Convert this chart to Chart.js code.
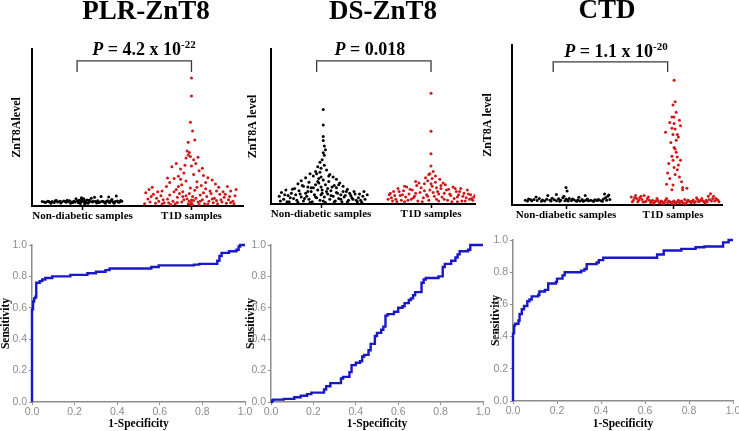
<!DOCTYPE html>
<html>
<head>
<meta charset="utf-8">
<script src="https://cdn.jsdelivr.net/npm/chart.js@4.4.1/dist/chart.umd.min.js"></script>
<style>
  html, body { margin: 0; padding: 0; background: #fff; }
  #wrap { position: relative; width: 739px; height: 431px; overflow: hidden; background: #fff; }
  #wrap canvas { position: absolute; }
  .ttl { position: absolute; transform: translateX(-50%); white-space: nowrap;
         font-family: "Times New Roman", "Liberation Serif", serif; font-weight: bold;
         font-size: 27px; line-height: 27px; color: #000; }
  .pv { position: absolute; transform: translateX(-50%); white-space: nowrap;
        font-family: "Times New Roman", "Liberation Serif", serif; font-weight: bold;
        font-size: 18px; line-height: 18px; color: #000; }
  .pv sup { font-size: 11px; vertical-align: 7px; line-height: 0; }
</style>
</head>
<body>
<div id="wrap">
  <canvas id="c1" width="247" height="225" style="left:0;top:0"></canvas>
  <canvas id="c2" width="237" height="225" style="left:247px;top:0"></canvas>
  <canvas id="c3" width="259" height="225" style="left:480px;top:0"></canvas>
  <canvas id="c4" width="258" height="203" style="left:0;top:228px"></canvas>
  <canvas id="c5" width="250" height="203" style="left:245px;top:228px"></canvas>
  <canvas id="c6" width="249" height="203" style="left:490px;top:228px"></canvas>

  <div class="ttl" style="left:146px;top:-3px">PLR-ZnT8</div>
  <div class="ttl" style="left:383px;top:-3px">DS-ZnT8</div>
  <div class="ttl" style="left:607px;top:-4px">CTD</div>

  <div class="pv" style="left:144px;top:40px"><i>P</i> = 4.2 x 10<sup>-22</sup></div>
  <div class="pv" style="left:370px;top:40px"><i>P</i> = 0.018</div>
  <div class="pv" style="left:616px;top:42px"><i>P</i> = 1.1 x 10<sup>-20</sup></div>
</div>
<script>
// ---------------- DATA ----------------
const groupLabels = ['Non-diabetic samples', 'T1D samples'];
const groupPositions = [1, 2];
const scatterYTitles = ['ZnT8Alevel', 'ZnT8A level', 'ZnT8A level'];

// PLR-ZnT8 : [jittered group position, ZnT8A level (0-100 of axis)]
const plrNonDiabetic = [[0.65,2.6],[0.68,3.1],[0.70,2.4],[0.72,2.9],[0.75,3.3],[0.77,2.5],[0.79,3.0],[0.81,2.7],[0.83,3.2],[0.85,2.4],
  [0.87,2.9],[0.88,3.4],[0.90,2.6],[0.92,3.0],[0.93,2.5],[0.95,3.3],[0.96,2.8],[0.97,3.6],[0.98,2.4],[0.99,3.9],
  [1.00,3.1],[1.00,4.2],[1.01,2.7],[1.02,3.5],[1.03,2.9],[1.04,3.8],[1.06,2.6],[1.07,3.2],[1.09,2.5],[1.10,3.0],
  [1.12,2.8],[1.14,3.3],[1.16,2.6],[1.18,3.1],[1.20,2.4],[1.22,3.0],[1.24,2.7],[1.26,3.4],[1.28,2.5],[1.30,2.9],
  [1.32,3.2],[1.34,2.6],[1.36,3.0],[0.71,1.8],[0.80,1.9],[0.89,1.7],[0.98,1.6],[1.05,1.8],[1.13,1.9],[1.21,1.7],
  [1.29,1.8],[1.11,5.6],[1.17,6.1],[1.24,5.8],[1.31,6.4],[0.99,5.2],[1.02,1.2],[0.94,4.6],[1.08,4.9],[1.27,4.1],
  [0.66,2.2],[0.69,2.9],[0.74,2.3],[0.76,3.5],[0.84,2.8],[0.86,3.6],[0.91,2.2],[0.96,2.3],[1.01,4.6],[1.03,2.2],
  [1.06,3.7],[1.15,2.3],[1.19,2.8],[1.23,3.4],[1.25,2.3],[1.33,2.4],[1.35,3.5],[0.63,2.9]];
const plrT1D = [[2.00,81.5],[2.00,70],[1.99,53.3],[2.01,47.8],[1.97,40.6],[2.03,42],[1.96,35],[1.98,34],[1.97,32.5],[1.99,31.5],
  [2.02,29.5],[1.95,30.5],[2.00,25.5],[2.04,27],
  [1.82,25],[1.86,27],[1.90,23.5],[1.93,21],[2.07,22.5],[2.11,19.5],[1.88,19],[1.84,17.5],[2.15,18],[2.19,16.5],
  [1.80,15],[1.95,16],[2.05,15.5],[2.22,14],[1.91,13.5],[2.09,13],[1.77,12.5],[2.25,12],[1.99,11.5],[2.13,11],
  [1.86,10.5],[2.03,10],[2.17,9.5],[1.73,9.5],
  [1.58,8.5],[1.61,10.5],[1.65,7.5],[1.68,5],[1.70,3],[1.72,6.5],[1.75,2],[1.78,4.5],[1.80,7],[1.83,3],
  [1.85,1.5],[1.87,5.5],[1.89,8],[1.91,2.5],[1.93,4],[1.95,6.5],[1.97,1.5],[1.98,3],[1.99,1],[2.00,2],
  [2.01,0.8],[2.02,3.5],[2.04,5],[2.06,2.5],[2.08,7],[2.10,4],[2.12,1.5],[2.14,6],[2.16,3],[2.18,8],
  [2.20,2],[2.21,5],[2.23,3.5],[2.26,7.5],[2.28,2.5],[2.30,5.5],[2.32,1.8],[2.34,4],[2.36,9.5],[2.38,3],
  [2.40,6.5],[2.41,10.5],[2.36,2.2],[1.62,2.5],[1.67,1.8],[1.60,4.5],[1.73,1.2],[1.81,1],[1.92,6],[2.07,1],
  [2.24,1.4],[2.29,9],[1.64,12],[2.33,12.5],
  [1.57,1.5],[1.63,6],[1.69,9],[1.74,4],[1.79,2],[1.84,9],[1.88,12.5],[1.92,9],[1.96,4.5],[2.01,6],
  [2.05,12],[2.08,3],[2.11,8.5],[2.15,1.2],[2.19,4.5],[2.23,9.5],[2.27,4],[2.31,7.5],[2.35,6],[2.39,1.5],
  [1.87,2.2],[2.00,3.8],[1.98,8],[2.13,15],[1.78,17.8],[1.94,26],[2.06,31],[1.90,17],[2.02,20],[2.10,24]];
const plrBracket = [[0.95,85.4],[0.95,92.4],[2.0,92.4],[2.0,85.4]];

// DS-ZnT8
const dsNonDiabetic = [[1.02,61],[1.02,51],[1.02,43.5],[1.02,41],[1.03,37.5],[1.04,35],[1.02,33],[1.03,31.5],[0.99,27],[1.01,28.5],
  [0.97,24],[1.00,23],
  [0.95,21],[1.05,22],[0.90,19.5],[1.08,19],[0.93,18],[1.11,17.5],[0.86,17],[0.98,16.5],[1.14,16],[0.82,15],
  [1.02,15.5],[0.89,14],[1.07,14.5],[1.17,13.5],[0.79,13],[0.95,12.5],[1.12,12],[0.84,11.5],[1.00,11],[1.20,11.5],
  [0.91,10.5],[1.06,10],[0.76,10],[1.24,9.5],
  [0.62,5],[0.64,7.5],[0.66,3],[0.68,9],[0.70,5.5],[0.71,1.5],[0.73,7],[0.75,3.5],[0.77,6],[0.79,1],
  [0.80,8.5],[0.82,4.5],[0.84,2],[0.86,7],[0.87,5],[0.89,3],[0.91,8],[0.92,1.5],[0.94,6],[0.96,4],
  [0.97,9],[0.99,2.5],[1.01,7],[1.03,4.5],[1.04,1],[1.06,6.5],[1.08,3],[1.09,8.5],[1.11,5],[1.13,2],
  [1.15,7],[1.16,3.5],[1.18,6],[1.19,1.5],[1.21,4.5],[1.23,8],[1.25,2.5],[1.27,5.5],[1.29,3],[1.31,6.5],
  [1.33,1.5],[1.34,4],[1.36,2.5],[1.38,5],[1.40,3],[1.42,6],[1.30,8],[0.88,11],[1.14,10.5],[0.98,13.5],
  [0.63,2],[0.67,6],[0.69,1.5],[0.72,4],[0.74,9.5],[0.78,2.5],[0.81,6.5],[0.83,12],[0.85,3.5],[0.88,8],
  [0.90,1],[0.93,10.5],[0.95,4.5],[0.97,14.5],[1.00,6],[1.00,17.5],[1.02,2],[1.04,12.5],[1.05,8],[1.07,18],
  [1.09,5.5],[1.10,11],[1.12,1.5],[1.14,7.5],[1.16,12.5],[1.18,3],[1.20,8],[1.22,5.5],[1.24,1.5],[1.26,7],
  [1.28,4],[1.32,2.5],[1.35,6.5],[1.37,1.2],[1.39,8],[0.96,19.5],[1.03,25],[0.99,20.5],[1.01,9]];
const dsT1D = [[2.00,71.5],[2.00,47],[2.00,32.5],[2.00,24.5],[2.02,21],[1.99,19.5],[2.04,18],
  [1.62,6],[1.64,4],[1.66,8],[1.68,3],[1.70,10],[1.72,5.5],[1.73,2.5],[1.75,8.5],[1.77,4.5],[1.78,11],
  [1.80,6.5],[1.82,3],[1.83,9],[1.85,5],[1.87,12],[1.88,2],[1.90,7.5],[1.91,10.5],[1.93,4],[1.94,13],
  [1.96,6],[1.97,15],[1.98,2.5],[1.99,9],[2.01,11.5],[2.03,5],[2.04,14],[2.05,3],[2.06,8],[2.08,16],
  [2.09,10],[2.10,4.5],[2.12,7],[2.13,12.5],[2.15,2.5],[2.16,9.5],[2.18,5.5],[2.20,11],[2.21,3.5],[2.23,8],
  [2.25,6],[2.27,10],[2.28,2],[2.30,7],[2.32,4],[2.33,9],[2.35,3],[2.36,6],[2.38,2.5],[2.39,4.5],
  [1.86,14.5],[2.11,13.5],[1.95,17],[2.07,6.5],[1.76,1.5],[2.24,1.5],
  [1.61,3],[1.63,7],[1.65,2],[1.67,5.5],[1.69,1.5],[1.71,8],[1.74,6],[1.76,11.5],[1.79,2.5],[1.81,9.5],
  [1.84,4],[1.86,7],[1.89,13.5],[1.92,1.5],[1.94,8.5],[1.97,5],[2.00,13],[2.02,7.5],[2.05,10.5],[2.07,2],
  [2.09,12],[2.12,3],[2.14,9],[2.17,6.5],[2.19,1.5],[2.22,10],[2.24,4.5],[2.26,8],[2.29,5],[2.31,2],
  [2.34,6.5],[2.37,3.5],[2.40,5.5],[2.01,16.5],[1.98,19]];
const dsBracket = [[0.96,85.2],[0.96,92.3],[2.0,92.3],[2.0,85.2]];

// CTD
const ctdNonDiabetic = [[0.62,3],[0.65,3.8],[0.68,2.6],[0.70,3.4],[0.73,2.8],[0.75,4],[0.78,3.1],[0.80,2.5],[0.82,3.6],[0.85,2.9],
  [0.87,4.2],[0.89,3.3],[0.91,2.6],[0.93,3.9],[0.95,3],[0.97,4.5],[0.99,2.7],[1.00,3.8],[1.01,3.2],[1.03,4.1],
  [1.05,2.8],[1.07,3.5],[1.09,2.6],[1.11,3.1],[1.13,2.5],[1.15,3.4],[1.17,2.7],[1.19,3.2],[1.21,2.6],[1.23,3],
  [1.25,2.5],[1.27,3.3],[1.29,2.8],[1.31,3.1],[1.33,2.6],[1.35,3.7],[1.37,4.5],[1.39,5.5],[1.41,3.4],
  [1.00,11],[1.01,8.7],[0.83,6],[0.91,6.5],[1.18,6],[1.40,6.2],[0.72,5],[0.98,5.5],[1.12,4.8],
  [0.64,2.5],[0.67,3.3],[0.77,2.4],[0.86,2.5],[0.94,2.4],[1.02,2.5],[1.06,3.8],[1.10,2.4],[1.16,2.4],[1.20,3.8],
  [1.26,2.4],[1.30,3.5],[1.34,2.4],[1.38,3],[1.36,6.8]];
const ctdT1D = [[2.01,78],[2.02,64.5],[2.00,62.5],[1.99,55],[2.01,55],[2.06,53],[1.97,51.5],[2.01,51],[1.99,48],[2.02,47.5],
  [2.00,44],[2.04,44],[2.05,42.5],[2.01,36],[2.02,35],[1.99,30.5],[2.04,30],[2.00,28],[2.07,28],[2.01,23.5],
  [2.04,22],[2.02,19],[1.97,16.5],[2.06,17.5],[1.94,13],[2.00,12.5],[2.09,11],[1.99,9.5],[2.09,9.5],[2.13,10.5],
  [1.98,39],[2.03,40.5],[1.96,26],[2.05,25],[2.03,33],[1.95,20],[2.08,14.5],[1.93,45.5],[2.07,49.5],[2.03,58],
  [1.61,5],[1.63,3],[1.65,6],[1.67,2],[1.69,4.5],[1.71,3.5],[1.73,6],[1.75,2.5],[1.77,5],[1.79,1.5],
  [1.81,3],[1.83,2],[1.85,4],[1.87,1.5],[1.89,2.5],[1.91,1],[1.93,3],[1.95,1.5],[1.97,2],[1.99,1],
  [2.01,2.5],[2.03,1.5],[2.05,3],[2.07,2],[2.09,1.5],[2.11,3.5],[2.13,2],[2.15,2.5],[2.17,1.5],[2.19,3],
  [2.21,2],[2.23,3.5],[2.25,2.5],[2.27,4],[2.29,2],[2.31,3],[2.33,5.5],[2.35,7],[2.37,4],[2.39,2.5],
  [2.41,3.5],[2.43,2],[1.66,4],[1.72,1.8],[1.86,2.8],[1.94,4],[2.12,1],[2.22,4.5],[2.30,1.2],[2.38,5.5],
  [1.62,2],[1.64,4.5],[1.68,3],[1.70,5.5],[1.74,2],[1.76,4],[1.78,3],[1.80,2],[1.82,1],[1.84,2.5],
  [1.88,1.2],[1.90,2],[1.92,1.5],[1.96,2.5],[1.98,1.5],[2.00,2],[2.02,1],[2.04,2],[2.06,1.2],[2.08,2.5],
  [2.10,1],[2.14,3],[2.16,2],[2.18,2.5],[2.20,1.5],[2.24,2],[2.26,3],[2.28,2.5],[2.32,2],[2.34,3.5],
  [2.36,2.5],[2.40,4],[2.42,3]];
const ctdBracket = [[0.88,83.1],[0.88,89.4],[1.95,89.4],[1.95,83.1]];

// ROC curves: [1-Specificity, Sensitivity] (step points)
const plrRoc = [[0,0],[0,0.59],[0.005,0.64],[0.01,0.66],[0.016,0.67],[0.02,0.76],[0.036,0.77],[0.048,0.78],[0.062,0.79],
  [0.095,0.80],[0.18,0.81],[0.26,0.82],[0.30,0.83],[0.345,0.84],[0.364,0.85],[0.56,0.86],[0.595,0.87],[0.76,0.875],
  [0.785,0.88],[0.87,0.90],[0.88,0.93],[0.89,0.95],[0.925,0.96],[0.96,0.97],[0.97,0.99],[0.977,1.0],[1.0,1.0]];
const dsRoc = [[0,0],[0.005,0.01],[0.01,0.015],[0.06,0.02],[0.11,0.03],[0.14,0.04],[0.17,0.05],[0.19,0.06],[0.25,0.08],
  [0.26,0.10],[0.28,0.12],[0.33,0.15],[0.34,0.16],[0.37,0.19],[0.38,0.235],[0.40,0.25],[0.42,0.26],[0.43,0.29],
  [0.44,0.30],[0.46,0.33],[0.47,0.37],[0.49,0.42],[0.50,0.44],[0.52,0.46],[0.53,0.48],[0.54,0.55],[0.55,0.56],
  [0.58,0.575],[0.60,0.60],[0.62,0.61],[0.63,0.63],[0.65,0.65],[0.66,0.66],[0.67,0.68],[0.68,0.70],[0.71,0.76],
  [0.72,0.78],[0.73,0.79],[0.79,0.80],[0.81,0.86],[0.82,0.88],[0.85,0.90],[0.87,0.92],[0.88,0.94],[0.89,0.96],
  [0.93,0.97],[0.94,1.0],[1.0,1.0]];
const ctdRoc = [[0,0],[0,0.42],[0.005,0.47],[0.01,0.48],[0.025,0.50],[0.03,0.54],[0.04,0.57],[0.05,0.59],[0.065,0.62],
  [0.075,0.63],[0.085,0.65],[0.115,0.66],[0.12,0.68],[0.145,0.69],[0.16,0.73],[0.195,0.74],[0.20,0.76],[0.225,0.78],
  [0.235,0.80],[0.31,0.81],[0.325,0.82],[0.335,0.85],[0.38,0.86],[0.39,0.875],[0.41,0.89],[0.655,0.91],[0.685,0.935],
  [0.765,0.945],[0.83,0.955],[0.87,0.96],[0.955,0.985],[0.98,1.0],[1.0,1.0]];

const rocTickValues = [0, 0.2, 0.4, 0.6, 0.8, 1.0];
const rocTickLabels = ['0.0', '0.2', '0.4', '0.6', '0.8', '1.0'];
const rocXTitle = '1-Specificity';
const rocYTitle = 'Sensitivity';

// ---------------- RENDERING ----------------
const SERIF = '"Times New Roman", "Liberation Serif", serif';
const SANS = 'Arial, "Liberation Sans", sans-serif';
const toXY = arr => arr.map(p => ({ x: p[0], y: p[1] }));

function scatterPanel(id, nonData, t1dData, bracket, yTitle, g) {
  new Chart(document.getElementById(id), {
    type: 'scatter',
    data: { datasets: [
      { data: toXY(nonData), backgroundColor: '#000', borderColor: '#000', pointRadius: 1.5, borderWidth: 0 },
      { data: toXY(t1dData), backgroundColor: '#d01818', borderColor: '#d01818', pointRadius: 1.5, borderWidth: 0 },
      { type: 'line', data: toXY(bracket), borderColor: '#3a3a3a', borderWidth: 1.3, pointRadius: 0, fill: false, clip: false }
    ]},
    options: {
      responsive: false, animation: false, events: [],
      layout: { padding: { top: g.top, right: g.right, left: 0, bottom: 0 } },
      plugins: { legend: { display: false }, tooltip: { enabled: false } },
      scales: {
        x: {
          type: 'linear', min: g.xmin, max: g.xmax,
          afterBuildTicks: s => { s.ticks = groupPositions.map(v => ({ value: v })); },
          ticks: { callback: (v, i) => groupLabels[i], color: '#000', padding: 0, maxRotation: 0, autoSkip: false,
                   font: { family: SERIF, weight: 'bold', size: 11, lineHeight: 1.1 } },
          grid: { drawOnChartArea: false, drawTicks: true, tickLength: 4, color: '#000', tickWidth: 1.5 },
          border: { display: true, color: '#000', width: 2 },
          afterFit: s => { s.height = g.xh; s.paddingLeft = 0; s.paddingRight = 0; }
        },
        y: {
          type: 'linear', min: 0, max: 100,
          ticks: { display: false },
          grid: { display: true, drawOnChartArea: false, drawTicks: false },
          border: { display: true, color: '#000', width: 2 },
          title: { display: true, text: yTitle, color: '#000', padding: { top: g.tp, bottom: 0 },
                   font: { family: SERIF, weight: 'bold', size: 12, lineHeight: 1 } },
          afterFit: s => { s.width = g.yw; s.paddingTop = 0; s.paddingBottom = 0; }
        }
      }
    }
  });
}

function rocPanel(id, roc, g) {
  const axisGray = '#8c8c8c';
  const tickCfg = (pad) => ({ color: axisGray, padding: pad, maxRotation: 0, autoSkip: false,
    callback: (v, i) => rocTickLabels[i], font: { family: SANS, size: 10.5, lineHeight: 1 } });
  new Chart(document.getElementById(id), {
    type: 'line',
    data: { datasets: [
      { data: toXY(roc), borderColor: '#1818c8', borderWidth: 2.4, pointRadius: 0, stepped: true, fill: false, clip: false }
    ]},
    options: {
      responsive: false, animation: false, events: [],
      layout: { padding: { top: g.top, right: g.right, left: 0, bottom: 0 } },
      plugins: { legend: { display: false }, tooltip: { enabled: false } },
      scales: {
        x: {
          type: 'linear', min: 0, max: 1,
          afterBuildTicks: s => { s.ticks = rocTickValues.map(v => ({ value: v })); },
          ticks: tickCfg(2),
          grid: { drawOnChartArea: false, drawTicks: true, tickLength: 3, color: axisGray },
          border: { display: true, color: axisGray, width: 1.5 },
          title: { display: true, text: rocXTitle, color: '#000', padding: { top: 0, bottom: 1 },
                   font: { family: SERIF, weight: 'bold', size: 11.5, lineHeight: 1 } },
          afterFit: s => { s.height = g.xh; s.paddingLeft = 0; s.paddingRight = 0; }
        },
        y: {
          type: 'linear', min: 0, max: 1,
          afterBuildTicks: s => { s.ticks = rocTickValues.map(v => ({ value: v })); },
          ticks: tickCfg(2),
          grid: { drawOnChartArea: false, drawTicks: true, tickLength: 3, color: axisGray },
          border: { display: true, color: axisGray, width: 1.5 },
          title: { display: true, text: rocYTitle, color: '#000', padding: { top: 0, bottom: 0 },
                   font: { family: SERIF, weight: 'bold', size: 11.5, lineHeight: 1 } },
          afterFit: s => { s.width = g.yw; s.paddingTop = 0; s.paddingBottom = 0; }
        }
      }
    }
  });
}

scatterPanel('c1', plrNonDiabetic, plrT1D, plrBracket, scatterYTitles[0],
  { top: 49, right: 2, xh: 19, yw: 32, tp: 11, xmin: 0.536, xmax: 2.473 });
scatterPanel('c2', dsNonDiabetic, dsT1D, dsBracket, scatterYTitles[1],
  { top: 49, right: 9, xh: 21, yw: 24, tp: 0, xmin: 0.545, xmax: 2.40 });
scatterPanel('c3', ctdNonDiabetic, ctdT1D, ctdBracket, scatterYTitles[2],
  { top: 45, right: 17, xh: 20, yw: 32, tp: 2, xmin: 0.495, xmax: 2.458 });

rocPanel('c4', plrRoc, { top: 17, right: 13, xh: 29, yw: 32 });
rocPanel('c5', dsRoc, { top: 17, right: 12, xh: 29, yw: 26 });
rocPanel('c6', ctdRoc, { top: 12, right: 6, xh: 30, yw: 23 });
</script>
</body>
</html>
